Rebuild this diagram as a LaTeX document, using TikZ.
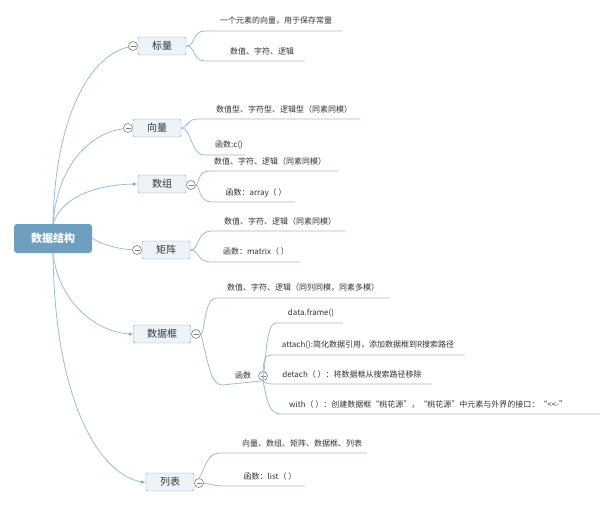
\documentclass[tikz,border=0pt]{standalone}
\usepackage{fontspec}
\newfontfamily\cjk{Noto Sans CJK SC}
\definecolor{ln}{HTML}{9BBCD4}
\definecolor{bx}{HTML}{EEF3F8}
\definecolor{bd}{HTML}{7FA8C9}
\definecolor{rt}{HTML}{6F9FC0}
\begin{document}
\begin{tikzpicture}[x=1pt,y=-1pt,
  br/.style={draw=bd,fill=bx,rounded corners=1.5pt,minimum width=48pt,minimum height=18pt,font=\cjk\fontsize{10}{12}\selectfont,text=black!80,inner sep=0pt},
  lf/.style={font=\cjk\fontsize{8}{10}\selectfont,text=black!80,inner sep=0pt},
  con/.style={draw=ln,line width=0.8pt},
  cl/.style={circle,draw=gray,fill=white,minimum size=9pt,inner sep=0pt,line width=0.6pt,
    path picture={\draw[gray,line width=0.6pt] ([xshift=-2.5pt]path picture bounding box.center)--([xshift=2.5pt]path picture bounding box.center);}},
  dt/.style={circle,fill=bd,minimum size=3.5pt,inner sep=0pt}]
\useasboundingbox (0,0) rectangle (600,506);
\node[fill=rt,rounded corners=3pt,minimum width=78pt,minimum height=29pt,font=\cjk\fontsize{11}{13}\selectfont\bfseries,text=white] (root) at (53,238.5) {数据结构};
\node[br] (a) at (162,46) {标量};
\node[br] (b) at (157,128) {向量};
\node[br] (c) at (162,184) {数组};
\node[br] (d) at (166,250) {矩阵};
\node[br,minimum width=57pt] (e) at (162,334) {数据框};
\node[br] (f) at (170,482) {列表};
% root connectors
\coordinate (rt) at (53,224);
\coordinate (rb) at (53,253);
\draw[con] (rt) .. controls (55,110) and (95,46) .. (a.west);
\draw[con] (rt) .. controls (58,160) and (95,128) .. (b.west);
\draw[con] (rt) .. controls (62,195) and (100,184) .. (c.west);
\draw[con] (root.east) .. controls (110,248) and (125,250) .. (d.west);
\draw[con] (rb) .. controls (58,300) and (95,334) .. (e.west);
\draw[con] (rb) .. controls (55,420) and (110,482) .. (f.west);
\node[cl] at (133,46) {};
\node[cl] at (128,128) {};
\node[dt] at (134,184) {};
\node[cl] at (137,250) {};
\node[dt] at (130,334) {};
\node[dt] at (142,482) {};
% 标量
\coordinate (a1) at (342,31); \coordinate (a2) at (305,61);
\draw[con] (a.east) .. controls (196,46) and (192,31) .. (205,31) -- (a1);
\draw[con] (a.east) .. controls (196,46) and (192,61) .. (205,61) -- (a2);
\node[lf] at (276,21) {一个元素的向量，用于保存常量};
\node[lf] at (262,51) {数值、字符、逻辑};
% 向量
\coordinate (b1) at (360,119); \coordinate (b2) at (245,155);
\draw[con] (b.east) .. controls (188,128) and (186,119) .. (198,119) -- (b1);
\draw[con] (b.east) .. controls (192,128) and (190,155) .. (205,155) -- (b2);
\node[lf] at (284,109) {数值型、字符型、逻辑型（同素同模）};
\node[lf,anchor=west] at (215,145) {函数:c()};
% 数组
\node[cl] (cc) at (191,185) {};
\coordinate (c1) at (338,171); \coordinate (c2) at (295,202);
\draw[con] (cc.east) .. controls (200,185) and (196,171) .. (210,171) -- (c1);
\draw[con] (cc.east) .. controls (200,185) and (198,202) .. (212,202) -- (c2);
\node[lf] at (270,161) {数值、字符、逻辑（同素同模）};
\node[lf] at (256,193) {函数：array（ ）};
% 矩阵
\coordinate (d1) at (345,231); \coordinate (d2) at (300,262);
\draw[con] (d.east) .. controls (200,250) and (196,231) .. (212,231) -- (d1);
\draw[con] (d.east) .. controls (200,250) and (196,262) .. (212,262) -- (d2);
\node[lf] at (280,221) {数值、字符、逻辑（同素同模）};
\node[lf] at (256,251) {函数：matrix（ ）};
% 数据框
\node[cl] (ec) at (196,334) {};
\coordinate (e1) at (390,298);
\draw[con] (ec.east) .. controls (205,334) and (204,298) .. (216,298) -- (e1);
\node[lf] at (303,288) {数值、字符、逻辑（同列同模，同素多模）};
\node[cl] (fn) at (263,376) {};
\draw[con] (ec.east) .. controls (208,360) and (210,385) .. (222,385) -- (fn.south);
\node[lf] at (243,375) {函数};
\coordinate (g1) at (343,323); \coordinate (g2) at (465,355);
\coordinate (g3) at (432,384); \coordinate (g4) at (600,414);
\draw[con] (fn.south) .. controls (266,360) and (266,323) .. (276,323) -- (g1);
\draw[con] (fn.south) .. controls (263,360) and (264,355) .. (272,355) -- (g2);
\draw[con] (fn.south) .. controls (265,382) and (266,384) .. (272,384) -- (g3);
\draw[con] (fn.south) .. controls (266,395) and (268,414) .. (280,414) -- (g4);
\node[lf] at (311,313) {data.frame()};
\node[lf] at (368,345) {attach():简化数据引用，添加数据框到R搜索路径};
\node[lf] at (352,374) {detach（ ）：将数据框从搜索路径移除};
\node[lf,anchor=west] at (289,404) {with（ ）：创建数据框“桃花源”，“桃花源”中元素与外界的接口：“<<-”};
% 列表
\node[cl] (fc) at (199,483) {};
\coordinate (f1) at (367,453); \coordinate (f2) at (305,486);
\draw[con] (fc.north) .. controls (205,470) and (206,453) .. (220,453) -- (f1);
\draw[con] (fc.east) .. controls (210,484) and (215,486) .. (225,486) -- (f2);
\node[lf] at (302,443) {向量、数组、矩阵、数据框、列表};
\node[lf] at (270,476) {函数：list（ ）};
\end{tikzpicture}
\end{document}
